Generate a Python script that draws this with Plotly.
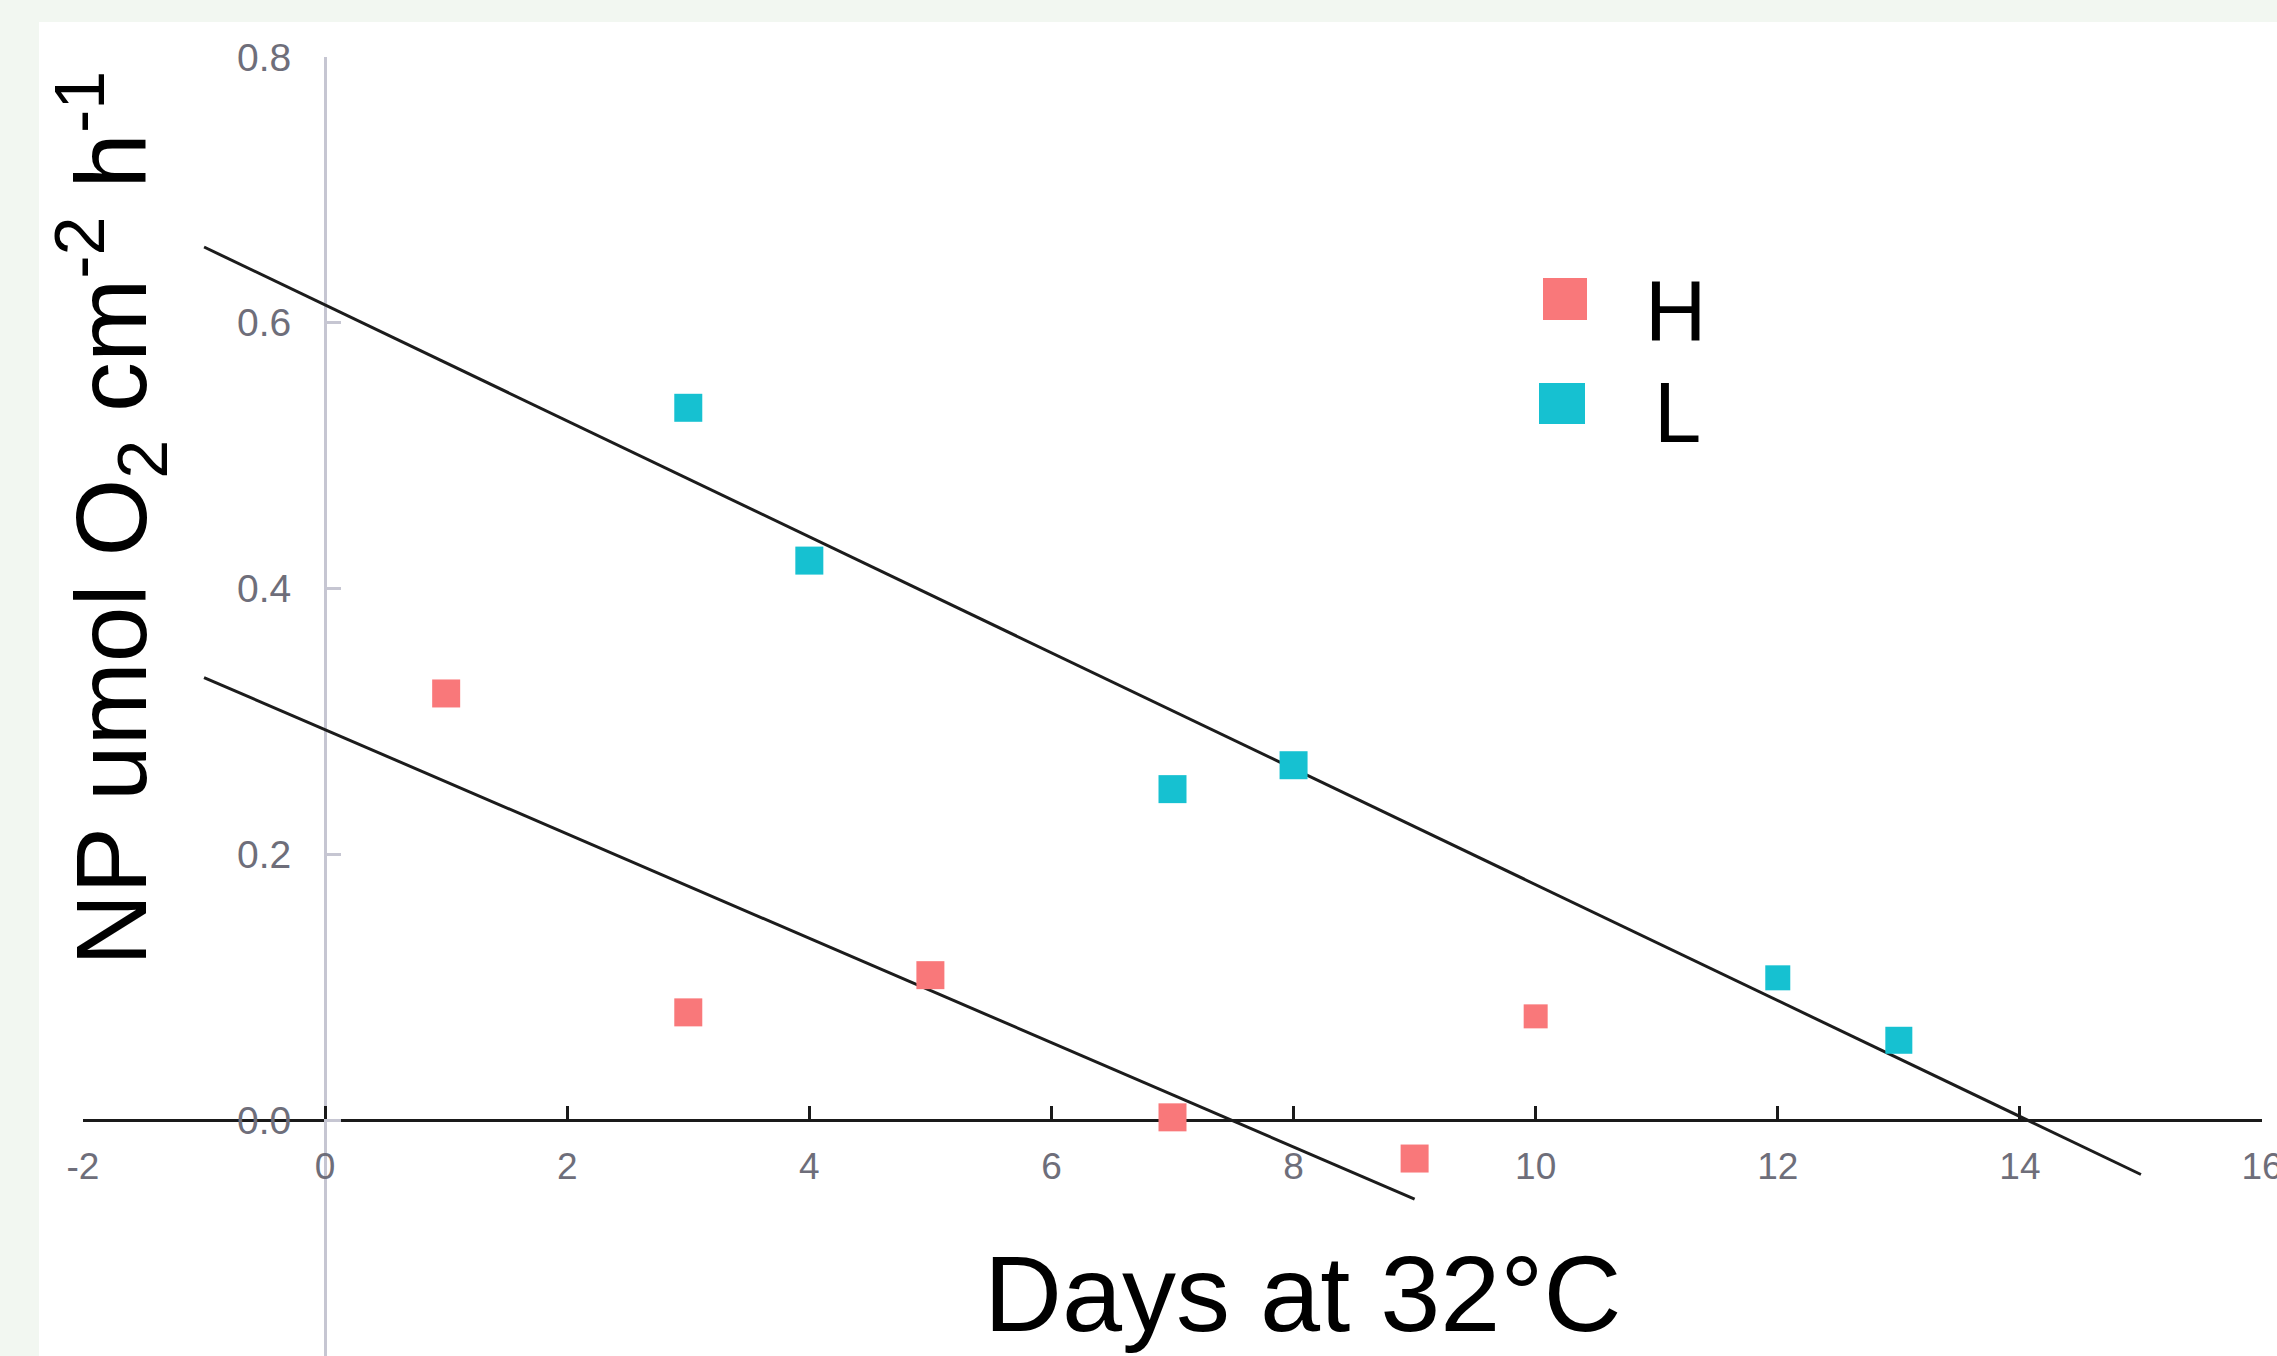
import plotly.graph_objects as go

# ---------------- data ----------------
h_days = [1, 3, 5, 7, 9, 10]
h_np = [0.321, 0.081, 0.109, 0.002, -0.029, 0.078]
h_size = [28, 28, 28, 28, 28, 24]

l_days = [3, 4, 7, 8, 12, 13]
l_np = [0.536, 0.421, 0.249, 0.267, 0.107, 0.060]
l_size = [28, 28, 28, 28, 25, 27]

# fitted regression lines (end points)
h_fit_days = [-1, 9]
h_fit_np = [0.333, -0.0595]
l_fit_days = [-1, 15]
l_fit_np = [0.657, -0.041]

x_ticks = [-2, 0, 2, 4, 6, 8, 10, 12, 14, 16]
y_ticks = [0.0, 0.2, 0.4, 0.6, 0.8]
y_ticktext = ["0.0", "0.2", "0.4", "0.6", "0.8"]

legend_names = ["H", "L"]

# ---------------- styles ----------------
H_COLOR = "#F9787A"
L_COLOR = "#16C1D1"
FONT = "Liberation Sans, Arial, Helvetica, sans-serif"
TICK_GREY = "#6E6E7A"

W, Hh = 2277, 1356
ML, MR, MT, MB = 83, 15, 57, 0
PW = W - ML - MR
PH = Hh - MT - MB

Y_MAX = 0.8
PX_PER_UNIT = (1120 - MT) / Y_MAX
Y_MIN = -(Hh - 1120) / PX_PER_UNIT
X_MIN, X_MAX = -2, 16


def px_x(px):
    return (px - ML) / PW


def px_y(py):
    return (Hh - MB - py) / PH


fig = go.Figure()

fig.add_trace(go.Scatter(x=h_fit_days, y=h_fit_np, mode="lines",
                         line=dict(color="#1c1c1c", width=3),
                         showlegend=False, hoverinfo="skip"))
fig.add_trace(go.Scatter(x=l_fit_days, y=l_fit_np, mode="lines",
                         line=dict(color="#1c1c1c", width=3),
                         showlegend=False, hoverinfo="skip"))

fig.add_trace(go.Scatter(x=h_days, y=h_np, mode="markers", name=legend_names[0],
                         marker=dict(symbol="square", size=h_size, color=H_COLOR,
                                     opacity=1, line=dict(width=0)),
                         showlegend=False))
fig.add_trace(go.Scatter(x=l_days, y=l_np, mode="markers", name=legend_names[1],
                         marker=dict(symbol="square", size=l_size, color=L_COLOR,
                                     opacity=1, line=dict(width=0)),
                         showlegend=False))

# white panel
shapes = [dict(type="rect", xref="paper", yref="paper",
               x0=px_x(39), x1=1.2, y0=-0.2, y1=px_y(22),
               fillcolor="white", line=dict(width=0), layer="below")]

# legend swatches
shapes.append(dict(type="rect", xref="paper", yref="paper",
                   x0=px_x(1543), x1=px_x(1587), y0=px_y(320), y1=px_y(278),
                   fillcolor=H_COLOR, line=dict(width=0), layer="above"))
shapes.append(dict(type="rect", xref="paper", yref="paper",
                   x0=px_x(1539), x1=px_x(1585), y0=px_y(424), y1=px_y(383),
                   fillcolor=L_COLOR, line=dict(width=0), layer="above"))

annotations = [
    dict(text=legend_names[0], xref="paper", yref="paper", x=px_x(1643), y=px_y(310),
         xanchor="left", yanchor="middle", showarrow=False,
         font=dict(family=FONT, size=85, color="black")),
    dict(text=legend_names[1], xref="paper", yref="paper", x=px_x(1652), y=px_y(412),
         xanchor="left", yanchor="middle", showarrow=False,
         font=dict(family=FONT, size=85, color="black")),
    dict(text="NP umol O<sub>2</sub> cm<sup>-2</sup> h<sup>-1</sup>",
         xref="paper", yref="paper", x=px_x(111), y=px_y(519),
         xanchor="center", yanchor="middle", textangle=-90, showarrow=False,
         font=dict(family=FONT, size=100, color="black")),
    dict(text="Days at 32°C", xref="paper", yref="paper", x=px_x(1302), y=px_y(1293),
         xanchor="center", yanchor="middle", showarrow=False,
         font=dict(family=FONT, size=108, color="black")),
]

fig.update_layout(
    width=W, height=Hh,
    margin=dict(l=ML, r=MR, t=MT, b=MB, autoexpand=False),
    paper_bgcolor="#F2F7F1",
    plot_bgcolor="white",
    shapes=shapes,
    annotations=annotations,
    showlegend=False,
    xaxis=dict(range=[X_MIN, X_MAX], anchor="free",
               position=(0 - Y_MIN) / (Y_MAX - Y_MIN),
               showline=True, linecolor="#1a1a1a", linewidth=3,
               ticks="inside", ticklen=13, tickwidth=2.5, tickcolor="#1a1a1a",
               tickvals=x_ticks, ticktext=[str(v) for v in x_ticks],
               tickfont=dict(family=FONT, size=37, color=TICK_GREY),
               ticklabelstandoff=13, ticklabeloverflow="allow",
               showgrid=False, zeroline=False, layer="below traces"),
    yaxis=dict(range=[Y_MIN, Y_MAX], anchor="free",
               position=(0 - X_MIN) / (X_MAX - X_MIN),
               showline=True, linecolor="#C6C6D2", linewidth=3,
               ticks="inside", ticklen=14, tickwidth=2.5, tickcolor="#C6C6D2",
               tickvals=y_ticks, ticktext=y_ticktext,
               tickfont=dict(family=FONT, size=39, color=TICK_GREY),
               ticklabelstandoff=25, ticklabeloverflow="allow",
               showgrid=False, zeroline=False, layer="below traces"),
)

fig.write_html("out.html",
               config={"displayModeBar": False},
               post_script="document.body.style.margin='0';document.body.style.padding='0';")
